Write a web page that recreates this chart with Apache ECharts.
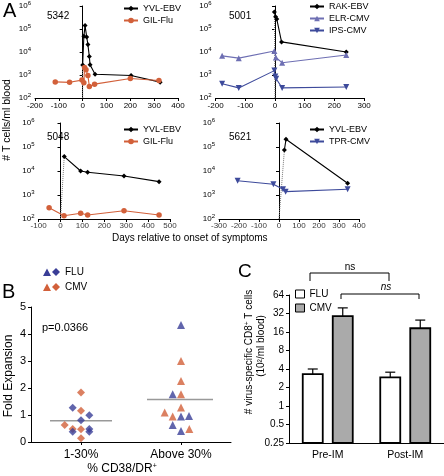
<!DOCTYPE html>
<html><head><meta charset="utf-8">
<script src="https://cdn.jsdelivr.net/npm/echarts@6/dist/echarts.min.js"></script>
<style>html,body{margin:0;padding:0;background:#fff}#c{width:444px;height:476px}</style>
</head><body><div id="c"></div>
<script>
// ---------- Panel A data: [day relative to onset, T cells / ml blood] ----------
const a1_YVL_EBV = [[0,2700],[5,48000],[10,141000],[17,45000],[22,21000],[28,6300],[31,2800],[52,1080],[203,950],[325,490]];
const a1_GIL_Flu = [[-115,500],[-55,480],[-3,600],[5,460],[8,2100],[14,1700],[22,950],[28,320],[50,400],[200,700],[320,580]];
const a2_RAK_EBV = [[-2,550000],[2,340000],[6,270000],[22,27500],[240,10000]];
const a2_ELR_CMV = [[-178,6800],[-122,5400],[-2,11000],[3,5800],[24,3400],[240,7400]];
const a2_IPS_CMV = [[-178,420],[-122,275],[-2,1550],[1,860],[4,690],[24,275],[240,300]];
const a3_YVL_EBV = [[17,40000],[92,10000],[124,8900],[290,6200],[450,3600]];
const a3_GIL_Flu = [[-52,295],[16,137],[92,173],[124,147],[290,222],[450,147]];
const a4_YVL_EBV = [[27,75000],[35,210000],[343,3100]];
const a4_TPR_CMV = [[-207,3950],[-28,2800],[20,1730],[33,1380],[343,1740]];
const aLogTicks = [100, 1000, 10000, 100000, 1000000];
const a3_xTicks = [-100, 0, 100, 200, 300, 400, 500];
const a4_xTicks = [-300, -200, -100, 0, 100, 200, 300, 400];

// ---------- Panel B data: [jitter position, fold expansion] ----------
const bCategories = ['1-30%', 'Above 30%'];
const b1_CMV = [[0.5,1.83],[0.5,1.16],[0.337,0.63],[0.417,0.48],[0.5,0.47],[0.5,0.14]];
const b1_FLU = [[0.417,1.27],[0.583,0.99],[0.5,0.81],[0.417,0.38],[0.583,0.48],[0.583,0.38]];
const b2_CMV = [[1.5,3.0],[1.5,2.26],[1.5,1.77],[1.5,1.28],[1.337,1.09],[1.417,0.94],[1.583,0.48]];
const b2_FLU = [[1.5,4.33],[1.417,1.77],[1.5,0.94],[1.58,0.96],[1.417,0.63],[1.5,0.41]];
const bMeans = [0.79, 1.57];
const bPValue = 'p=0.0366';

// ---------- Panel C data ----------
const cCategories = ['Pre-IM', 'Post-IM'];
const cFLU = [3.3, 2.93];
const cFLU_err = [4.0, 3.55];
const cCMV = [29, 18.4];
const cCMV_err = [39.5, 25];
const cTicks = [0.25, 0.5, 1, 2, 4, 8, 16, 32, 64];

// ---------- styling ----------
const FR = 'Liberation Sans, Arial, sans-serif';
const ORANGE = '#d2603a', BLUE_L = '#6e6fb3', BLUE_D = '#3d4a9b', BLUE_B = '#3a3e97';
const DOWN_TRI = 'path://M0,0 L10,0 L5,8.5 Z';

const axLine = {show:true, lineStyle:{color:'#000', width:1}};
const axTick = {show:true, length:3, lineStyle:{color:'#000', width:1}};

function aX(gi, min, max, labels) {
  return {type:'value', gridIndex:gi, position:'bottom', min, max, interval:100, axisLine:{...axLine, onZero:false},
    axisTick:axTick, splitLine:{show:false},
    axisLabel:{show:labels, color:'#000', fontSize:8, fontFamily:FR, margin:4, hideOverlap:false}};
}
function aXHelper(gi, min, max) {
  return {type:'value', gridIndex:gi, min, max, show:false};
}
function aY(gi) {
  return {type:'log', logBase:10, gridIndex:gi, min:aLogTicks[0], max:aLogTicks[aLogTicks.length-1], interval:1,
    axisLine:axLine, axisTick:axTick, splitLine:{show:false}, minorTick:{show:false},
    axisLabel:{color:'#000', margin:4,
      formatter: v => '{b|10}{s|' + Math.round(Math.log10(v)) + '}',
      rich:{b:{fontSize:8, fontFamily:FR, lineHeight:12, color:'#000'}, s:{fontSize:6, fontFamily:FR, verticalAlign:'top', color:'#000'}}}};
}
function ln(name, data, gi, color, symbol, size) {
  return {type:'line', name, data, xAxisIndex:gi, yAxisIndex:gi, symbol, symbolSize:size,
    lineStyle:{width:1.1, color}, itemStyle:{color}, color, z:3, animation:false};
}
function onset(data, gi) {
  return {type:'line', name:'onset'+gi, data:[[0, aLogTicks[0]], data[0]], xAxisIndex:gi, yAxisIndex:gi,
    symbol:'none', lineStyle:{type:'dotted', color:'#777', width:1}, z:1, silent:true, animation:false};
}
function tickLabels(ticks, axisIdx) {
  return {type:'scatter', name:'ticks'+axisIdx, xAxisIndex:axisIdx, yAxisIndex:axisIdx-1,
    data: ticks.map(v => [v, 0]), symbolSize:0, silent:true, z:100,
    label:{show:true, position:'bottom', distance:3, formatter: p => String(p.value[0]),
      fontSize:8, fontFamily:FR, color:'#000'}};
}
function cBars(name, vals, errs, off, fill) {
  return {type:'custom', name, xAxisIndex:6, yAxisIndex:5, z:3, animation:false,
    itemStyle:{color:fill},
    data: vals.map((v,i)=>[i, v, errs[i]]),
    renderItem:(params, api) => {
      const top = api.coord([api.value(0), api.value(1)]);
      const base = api.coord([api.value(0), cTicks[0]]);
      const err = api.coord([api.value(0), api.value(2)]);
      const bw = 20, cx = top[0] + off;
      return {type:'group', children:[
        {type:'line', shape:{x1:cx, y1:top[1], x2:cx, y2:err[1]}, style:{stroke:'#000', lineWidth:1.2}},
        {type:'line', shape:{x1:cx-5, y1:err[1], x2:cx+5, y2:err[1]}, style:{stroke:'#000', lineWidth:1.2}},
        {type:'rect', shape:{x:cx-bw/2, y:top[1], width:bw, height:base[1]-top[1]}, style:{fill, stroke:'#000', lineWidth:1.8}}
      ]};
    }};
}

const legendCommon = {orient:'vertical', padding:0, itemGap:1, itemWidth:14, itemHeight:7,
  textStyle:{fontSize:9, fontFamily:FR, color:'#000', lineHeight:11}, selectedMode:false};

const option = {
  animation:false,
  backgroundColor:'#fff',
  title:{text:'Days relative to onset of symptoms', left:112, top:233, padding:0,
    textStyle:{fontSize:10, fontWeight:'normal', fontFamily:FR, color:'#000'}},
  grid:[
    {left:35, top:4, width:143, height:94},
    {left:215.6, top:4, width:148.5, height:94},
    {left:38.6, top:123, width:131.4, height:96},
    {left:219, top:123, width:140, height:96},
    {left:31, top:307, width:200, height:135},
    {left:289, top:295, width:155, height:148},
    {left:38.6, top:218, width:131.4, height:1},
    {left:219, top:218, width:140, height:1}
  ],
  xAxis:[
    aX(0,-200,400,true), aX(1,-200,300,true), aX(2,-100,500,false), aX(3,-300,400,false),
    {type:'category', gridIndex:4, data:bCategories, boundaryGap:true,
      axisLine:axLine, axisTick:{...axTick, alignWithLabel:true}, splitLine:{show:false},
      axisLabel:{color:'#000', fontSize:12, fontFamily:FR, margin:7}},
    {type:'value', gridIndex:4, min:0, max:2, show:false},
    {type:'category', gridIndex:5, data:cCategories, boundaryGap:true,
      axisLine:{show:true, lineStyle:{color:'#000', width:1.2}}, axisTick:{show:false}, splitLine:{show:false},
      axisLabel:{color:'#000', fontSize:10.5, fontFamily:FR, margin:7}},
    aXHelper(6, a3_xTicks[0], a3_xTicks[a3_xTicks.length-1]),
    aXHelper(7, a4_xTicks[0], a4_xTicks[a4_xTicks.length-1])
  ],
  yAxis:[
    aY(0), aY(1), aY(2), aY(3),
    {type:'value', gridIndex:4, min:0, max:5, interval:1, axisLine:axLine, axisTick:axTick, splitLine:{show:false},
      axisLabel:{color:'#000', fontSize:11, fontFamily:FR, margin:5}},
    {type:'log', logBase:2, gridIndex:5, min:cTicks[0], max:cTicks[cTicks.length-1], interval:1,
      axisLine:axLine, axisTick:axTick, splitLine:{show:false}, minorTick:{show:false},
      axisLabel:{color:'#000', fontSize:10, fontFamily:FR, margin:5,
        formatter: v => { let r = cTicks.reduce((a,b)=>Math.abs(b-v)<Math.abs(a-v)?b:a); return String(r); }}},
    {type:'value', gridIndex:6, min:0, max:1, show:false},
    {type:'value', gridIndex:7, min:0, max:1, show:false}
  ],
  legend:[
    {...legendCommon, data:['YVL-EBV','GIL-Flu'], left:123, top:3},
    {...legendCommon, data:['RAK-EBV','ELR-CMV','IPS-CMV'], left:309, top:1},
    {...legendCommon, data:['YVL-EBV','GIL-Flu'], left:123, top:124},
    {...legendCommon, data:['YVL-EBV','TPR-CMV'], left:309, top:124},
    {orient:'vertical', padding:0, itemGap:4, itemWidth:9, itemHeight:8, left:295, top:289, selectedMode:false,
      textStyle:{fontSize:10, fontFamily:FR, color:'#000'},
      data:[{name:'FLU', icon:'rect', itemStyle:{color:'#fff', borderColor:'#000', borderWidth:1}},
            {name:'CMV', icon:'rect', itemStyle:{color:'#aaa', borderColor:'#000', borderWidth:1}}]}
  ],
  series:[
    onset(a1_YVL_EBV,0), onset(a2_RAK_EBV,1), onset(a3_YVL_EBV,2), onset(a4_YVL_EBV,3),
    ln('YVL-EBV', a1_YVL_EBV, 0, '#000', 'diamond', 5),
    ln('GIL-Flu', a1_GIL_Flu, 0, ORANGE, 'circle', 5.5),
    ln('RAK-EBV', a2_RAK_EBV, 1, '#000', 'diamond', 5),
    ln('ELR-CMV', a2_ELR_CMV, 1, BLUE_L, 'triangle', 6),
    ln('IPS-CMV', a2_IPS_CMV, 1, BLUE_D, DOWN_TRI, 6),
    ln('YVL-EBV', a3_YVL_EBV, 2, '#000', 'diamond', 5),
    ln('GIL-Flu', a3_GIL_Flu, 2, ORANGE, 'circle', 5.5),
    ln('YVL-EBV', a4_YVL_EBV, 3, '#000', 'diamond', 5),
    ln('TPR-CMV', a4_TPR_CMV, 3, BLUE_D, DOWN_TRI, 6),
    tickLabels(a3_xTicks, 7), tickLabels(a4_xTicks, 8),
    // Panel B
    {type:'line', name:'mean1', xAxisIndex:5, yAxisIndex:4, data:[[0.19,bMeans[0]],[0.81,bMeans[0]]], symbol:'none', lineStyle:{color:'#999', width:1.5}, z:1},
    {type:'line', name:'mean2', xAxisIndex:5, yAxisIndex:4, data:[[1.16,bMeans[1]],[1.82,bMeans[1]]], symbol:'none', lineStyle:{color:'#999', width:1.5}, z:1},
    {type:'scatter', name:'b1cmv', xAxisIndex:5, yAxisIndex:4, data:b1_CMV, symbol:'diamond', symbolSize:8, itemStyle:{color:ORANGE}, z:3},
    {type:'scatter', name:'b1flu', xAxisIndex:5, yAxisIndex:4, data:b1_FLU, symbol:'diamond', symbolSize:8, itemStyle:{color:BLUE_B}, z:3},
    {type:'scatter', name:'b2cmv', xAxisIndex:5, yAxisIndex:4, data:b2_CMV, symbol:'triangle', symbolSize:8, itemStyle:{color:ORANGE}, z:3},
    {type:'scatter', name:'b2flu', xAxisIndex:5, yAxisIndex:4, data:b2_FLU, symbol:'triangle', symbolSize:8, itemStyle:{color:BLUE_B}, z:3},
    // Panel C
    cBars('FLU', cFLU, cFLU_err, -15, '#fff'),
    cBars('CMV', cCMV, cCMV_err, 15, '#aaa')
  ],
  graphic:[
    {type:'text', x:3, y:1, style:{text:'A', fontSize:20, fontFamily:FR, fill:'#000'}},
    {type:'text', x:47, y:16, style:{text:'5342', fontSize:10, fontFamily:FR, fill:'#000', verticalAlign:'middle'}},
    {type:'text', x:229, y:16, style:{text:'5001', fontSize:10, fontFamily:FR, fill:'#000', verticalAlign:'middle'}},
    {type:'text', x:47, y:137, style:{text:'5048', fontSize:10, fontFamily:FR, fill:'#000', verticalAlign:'middle'}},
    {type:'text', x:229, y:137, style:{text:'5621', fontSize:10, fontFamily:FR, fill:'#000', verticalAlign:'middle'}},
    {type:'text', x:7, y:120, rotation:Math.PI/2, style:{text:'# T cells/ml blood', fontSize:10.5, fontFamily:FR, fill:'#000', align:'center', verticalAlign:'middle'}},
    {type:'text', x:2, y:282, style:{text:'B', fontSize:20, fontFamily:FR, fill:'#000'}},
    {type:'polygon', shape:{points:[[43,276],[47,268.5],[51,276]]}, style:{fill:BLUE_B}},
    {type:'polygon', shape:{points:[[56,268],[60,272],[56,276],[52,272]]}, style:{fill:BLUE_B}},
    {type:'text', x:65, y:272, style:{text:'FLU', fontSize:10, fontFamily:FR, fill:'#000', verticalAlign:'middle'}},
    {type:'polygon', shape:{points:[[43,291],[47,283.5],[51,291]]}, style:{fill:ORANGE}},
    {type:'polygon', shape:{points:[[56,283],[60,287],[56,291],[52,287]]}, style:{fill:ORANGE}},
    {type:'text', x:65, y:287, style:{text:'CMV', fontSize:10, fontFamily:FR, fill:'#000', verticalAlign:'middle'}},
    {type:'text', x:42, y:328, style:{text:bPValue, fontSize:11, fontFamily:FR, fill:'#000', verticalAlign:'middle'}},
    {type:'text', x:9, y:376, rotation:Math.PI/2, style:{text:'Fold Expansion', fontSize:12, fontFamily:FR, fill:'#000', align:'center', verticalAlign:'middle'}},
    {type:'text', x:122, y:469, style:{text:'% CD38/DR{s|+}', fontSize:12, fontFamily:FR, fill:'#000', align:'center', verticalAlign:'middle',
      rich:{s:{fontSize:7, fontFamily:FR, verticalAlign:'top', fill:'#000'}}}},
    {type:'text', x:238, y:262, style:{text:'C', fontSize:19, fontFamily:FR, fill:'#000'}},
    {type:'polyline', shape:{points:[[310,281],[310,273],[389,273],[389,281]]}, style:{stroke:'#000', lineWidth:1, fill:null}},
    {type:'text', x:350, y:267, style:{text:'ns', fontSize:10, fontFamily:FR, fill:'#000', align:'center', verticalAlign:'middle'}},
    {type:'polyline', shape:{points:[[341,299],[341,294],[419,294],[419,299]]}, style:{stroke:'#000', lineWidth:1, fill:null}},
    {type:'text', x:386, y:287, style:{text:'ns', fontSize:10, fontStyle:'italic', fontFamily:FR, fill:'#000', align:'center', verticalAlign:'middle'}},
    {type:'text', x:249, y:352, rotation:Math.PI/2, style:{text:'# virus-specific CD8{s|+} T cells', fontSize:10, fontFamily:FR, fill:'#000', align:'center', verticalAlign:'middle',
      rich:{s:{fontSize:6.5, fontFamily:FR, verticalAlign:'top', fill:'#000'}}}},
    {type:'text', x:261, y:346, rotation:Math.PI/2, style:{text:'(10\u00b2/ml blood)', fontSize:10, fontFamily:FR, fill:'#000', align:'center', verticalAlign:'middle'}}
  ]
};
const chart = echarts.init(document.getElementById('c'), null, {renderer:'canvas', width:444, height:476});
chart.setOption(option);
</script>
</body></html>
